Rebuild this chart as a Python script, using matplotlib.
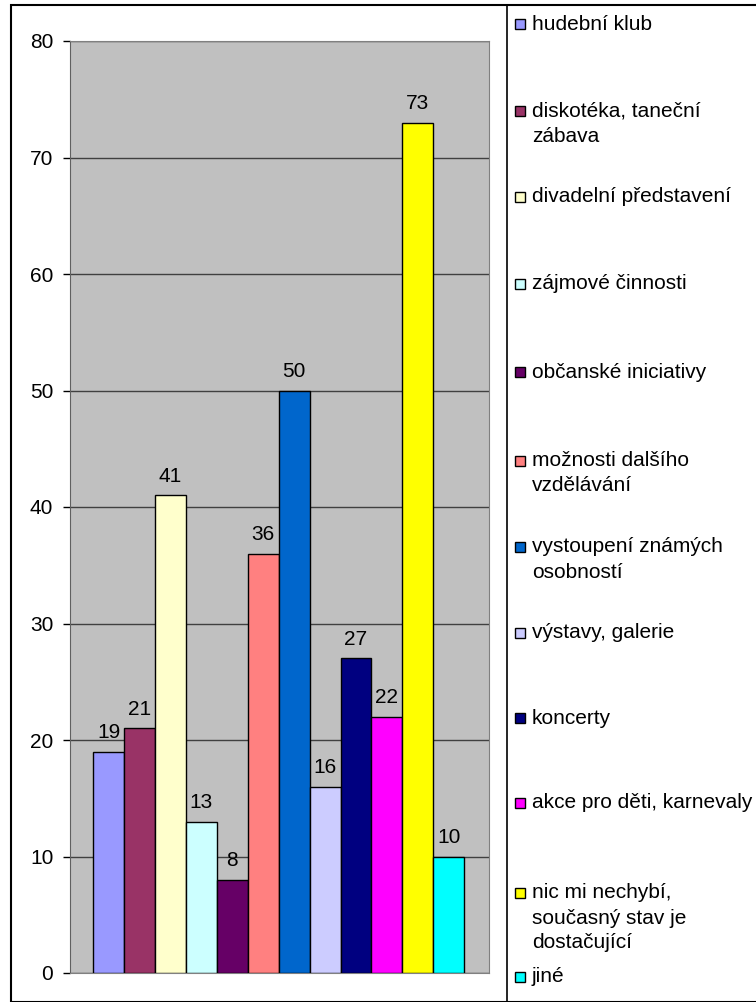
import matplotlib.pyplot as plt
from matplotlib.patches import Rectangle
import numpy as np

plt.rcParams['font.family'] = ['Liberation Sans', 'DejaVu Sans']

hodnoty = [19, 21, 41, 13, 8, 36, 50, 16, 27, 22, 73, 10]
barvy = ['#9999FF', '#993366', '#FFFFCC', '#CCFFFF', '#660066', '#FF8080',
         '#0066CC', '#CCCCFF', '#000080', '#FF00FF', '#FFFF00', '#00FFFF']
popisky = [
    ['hudební klub'],
    ['diskotéka, taneční', 'zábava'],
    ['divadelní představení'],
    ['zájmové činnosti'],
    ['občanské iniciativy'],
    ['možnosti dalšího', 'vzdělávání'],
    ['vystoupení známých', 'osobností'],
    ['výstavy, galerie'],
    ['koncerty'],
    ['akce pro děti, karnevaly'],
    ['nic mi nechybí,', 'současný stav je', 'dostačující'],
    ['jiné'],
]
y_ticks = [0, 10, 20, 30, 40, 50, 60, 70, 80]

W, H = 756, 1002
fs = 15
fig = plt.figure(figsize=(W / 100, H / 100), dpi=100)

# vnejsi ramecek grafu + oddelovac legendy
fig.patches.append(Rectangle((11 / W, 1 - 1001.5 / H), 800 / W, 996.5 / H,
                             transform=fig.transFigure, fill=False,
                             edgecolor='black', lw=1.5))
fig.lines.append(plt.Line2D([507 / W, 507 / W], [0, 1 - 5 / H],
                            transform=fig.transFigure, color='black', lw=1.2))

ax = fig.add_axes([70 / W, 1 - 973 / H, 419 / W, (973 - 41) / H])
ax.set_facecolor('#C0C0C0')
x = np.arange(len(hodnoty))
ax.bar(x, hodnoty, width=1.0, color=barvy, edgecolor='black', lw=1, zorder=3)
for xi, v in zip(x, hodnoty):
    ax.annotate(str(v), (xi, v), xytext=(0, 7), textcoords='offset points',
                ha='center', va='bottom', fontsize=fs, zorder=4)

ax.set_xlim(-1.25, 12.3)
ax.set_ylim(0, 80)
ax.set_yticks(y_ticks)
ax.tick_params(axis='y', labelsize=fs, length=5, width=1, pad=7)
ax.set_xticks([])
ax.grid(axis='y', color='#404040', lw=1, zorder=1)
for s in ['top', 'right', 'bottom']:
    ax.spines[s].set_color('#808080')
ax.spines['left'].set_color('#606060')

# legenda
y_pos = [24, 111, 197, 284, 372, 461, 547, 633, 718, 803, 893, 977]
for lines, c, yp in zip(popisky, barvy, y_pos):
    fig.patches.append(Rectangle((515 / W, 1 - (yp + 5) / H), 10 / W, 10 / H,
                                 transform=fig.transFigure, facecolor=c,
                                 edgecolor='black', lw=1))
    for k, t in enumerate(lines):
        fig.text(532 / W, 1 - (yp + 25 * k) / H, t, fontsize=fs,
                 ha='left', va='center')

fig.savefig('out.png', dpi=100)
